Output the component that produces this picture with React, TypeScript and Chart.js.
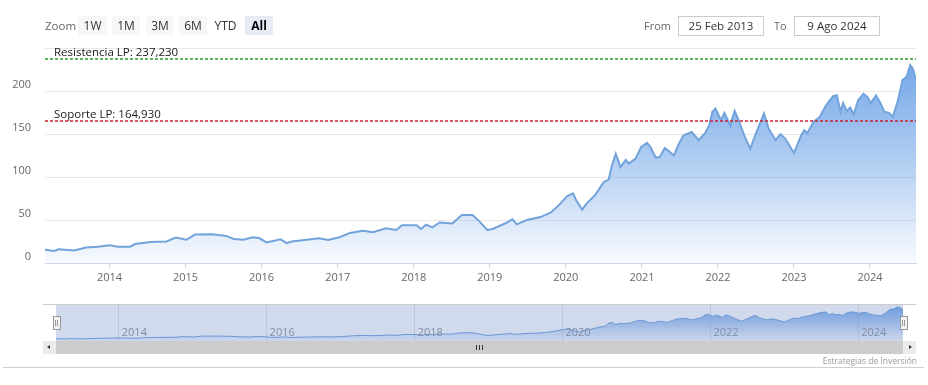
import React, { useEffect, useRef } from 'react';
import { Chart, registerables } from 'chart.js';

Chart.register(...registerables);

// ---------- data ----------
const DATES: string[] = [
  '2013-02-25', '2013-04-10', '2013-05-01', '2013-07-15', '2013-09-10', '2013-11-05',
  '2014-01-01', '2014-02-10', '2014-04-10', '2014-05-05', '2014-07-15', '2014-10-01', '2014-11-15',
  '2015-01-05', '2015-02-15', '2015-05-10', '2015-07-15', '2015-08-20', '2015-10-05', '2015-11-20', '2015-12-20',
  '2016-01-25', '2016-04-01', '2016-05-01', '2016-05-25', '2016-08-05', '2016-10-01', '2016-11-15',
  '2017-01-10', '2017-03-01', '2017-05-01', '2017-06-20', '2017-08-20', '2017-10-10', '2017-11-05',
  '2018-01-15', '2018-02-05', '2018-03-01', '2018-04-01', '2018-05-05', '2018-07-05', '2018-08-20', '2018-10-10', '2018-11-10', '2018-12-20',
  '2019-01-15', '2019-03-20', '2019-04-20', '2019-05-10', '2019-06-28', '2019-09-01', '2019-10-20', '2019-11-28',
  '2020-01-07', '2020-02-05', '2020-02-20', '2020-03-20', '2020-04-10', '2020-05-20', '2020-07-01', '2020-07-25',
  '2020-08-10', '2020-08-28', '2020-09-20', '2020-10-15', '2020-10-30', '2020-12-01', '2020-12-28',
  '2021-01-25', '2021-02-10', '2021-03-08', '2021-03-28', '2021-04-20', '2021-05-05', '2021-06-03', '2021-06-28',
  '2021-07-20', '2021-08-28', '2021-09-30', '2021-10-30', '2021-11-20', '2021-12-05', '2021-12-20',
  '2022-01-15', '2022-02-01', '2022-03-01', '2022-03-22', '2022-04-10', '2022-05-10', '2022-06-05', '2022-06-20',
  '2022-07-15', '2022-08-10', '2022-09-01', '2022-10-05', '2022-10-28', '2022-11-20',
  '2023-01-01', '2023-02-05', '2023-02-20', '2023-03-05', '2023-04-05', '2023-05-05', '2023-06-05', '2023-07-08',
  '2023-07-26', '2023-08-12', '2023-08-25', '2023-09-12', '2023-09-28', '2023-10-15', '2023-11-05', '2023-12-01', '2023-12-20',
  '2024-01-05', '2024-01-30', '2024-02-20', '2024-03-10', '2024-04-01', '2024-04-20', '2024-05-15', '2024-06-05',
  '2024-06-25', '2024-07-12', '2024-07-25', '2024-08-09',
];

const PRICES: number[] = [
  15.5, 14, 16, 14.5, 18, 19,
  20.5, 19, 19, 22, 24.5, 25, 29.5,
  27, 33, 33.3, 31.5, 28, 27, 30, 29,
  24, 27.5, 23, 25, 27, 28.7, 26.8,
  30, 35, 37.6, 35.7, 40.3, 38.4, 43.8,
  43.8, 39.6, 44.6, 41.4, 47.2, 46, 55.8, 55.8, 49, 38.4,
  39.6, 46.5, 50.7, 45, 50, 53.4, 58.5, 67,
  77.5, 81, 73, 62, 69, 78.7, 94, 97,
  113.6, 127, 111.6, 120, 115.6, 121.4, 135,
  139.6, 135, 122.6, 123.3, 133.8, 131, 125, 139,
  148.6, 152.4, 142.8, 150.6, 160, 175.8, 179.7,
  166, 174.6, 160, 176.9, 166, 146.6, 133, 142.8,
  158.3, 173.9, 156.4, 142.8, 149.8, 144.7,
  128, 148.6, 154.4, 150.6, 164, 170, 183.6, 194,
  195.2, 175.8, 186, 176.6, 180.9, 173, 189.4, 197, 193,
  186, 195, 186, 175.8, 174.6, 170, 189.4, 212.7,
  216.6, 230, 226, 212.7,
];

const START_DATE = '2013-02-25';
const END_DATE = '2024-08-09';
const Y_TICKS = [0, 50, 100, 150, 200, 250];
const YEAR_TICKS = [2014, 2015, 2016, 2017, 2018, 2019, 2020, 2021, 2022, 2023, 2024];
const NAV_YEAR_TICKS = [2014, 2016, 2018, 2020, 2022, 2024];
const LEVEL_VALUES = [237.23, 164.93];
const LEVEL_LABELS = ['Resistencia LP: 237,230', 'Soporte LP: 164,930'];
const LEVEL_COLORS = ['#2a9a2a', '#cc2233'];
const RANGE_BUTTONS = ['1W', '1M', '3M', '6M', 'YTD', 'All'];
const FROM_TEXT = '25 Feb 2013';
const TO_TEXT = '9 Ago 2024';
const CREDITS = 'Estrategias de Inversión';

// ---------- helpers ----------
const FONT = "'Open Sans', 'DejaVu Sans', sans-serif";
const toMs = (d: string) => Date.parse(d + 'T00:00:00Z');
const POINTS = DATES.map((d, i) => ({ x: toMs(d), y: PRICES[i] }));
const MAX_PRICE = Math.max(...PRICES);

const areaGradient = (top: number, bottom: number, ctx: CanvasRenderingContext2D) => {
  const g = ctx.createLinearGradient(0, top, 0, bottom);
  g.addColorStop(0, 'rgba(118,168,232,1)');
  g.addColorStop(0.45, 'rgba(118,168,232,0.6)');
  g.addColorStop(1, 'rgba(118,168,232,0.05)');
  return g;
};

const plotLinesPlugin = {
  id: 'plotLines',
  afterDatasetsDraw(chart: any) {
    const { ctx, chartArea: ca } = chart;
    const y = chart.scales.y;
    ctx.save();
    LEVEL_VALUES.forEach((v, i) => {
      const py = Math.round(y.getPixelForValue(v));
      ctx.strokeStyle = LEVEL_COLORS[i];
      ctx.lineWidth = 1.3;
      ctx.setLineDash([3, 2]);
      ctx.beginPath();
      ctx.moveTo(ca.left, py);
      ctx.lineTo(ca.right, py);
      ctx.stroke();
      ctx.setLineDash([]);
      ctx.fillStyle = '#1a1a1a';
      ctx.font = `11.5px ${FONT}`;
      ctx.textAlign = 'left';
      ctx.textBaseline = 'alphabetic';
      ctx.fillText(LEVEL_LABELS[i], ca.left + 9, py - 3);
    });
    ctx.restore();
  },
};

const navPlugin = {
  id: 'navMask',
  afterDatasetsDraw(chart: any) {
    const { ctx, chartArea: ca } = chart;
    const x = chart.scales.x;
    ctx.save();
    ctx.fillStyle = 'rgba(102,133,194,0.3)';
    ctx.fillRect(ca.left, ca.top, ca.right - ca.left, ca.bottom - ca.top);
    ctx.fillStyle = '#838ca2';
    ctx.font = `11px ${FONT}`;
    ctx.textAlign = 'left';
    ctx.textBaseline = 'middle';
    NAV_YEAR_TICKS.forEach((yr) => {
      const px = x.getPixelForValue(Date.UTC(yr, 0, 1));
      ctx.fillText(String(yr), px + 3, ca.bottom - 8);
    });
    ctx.restore();
  },
};

export default function App() {
  const mainRef = useRef<HTMLCanvasElement>(null);
  const navRef = useRef<HTMLCanvasElement>(null);

  useEffect(() => {
    const main = new Chart(mainRef.current as HTMLCanvasElement, {
      type: 'line',
      data: {
        datasets: [
          {
            data: POINTS,
            borderColor: '#72a3db',
            borderWidth: 2,
            pointRadius: 0,
            tension: 0,
            fill: 'origin',
            backgroundColor: (c: any) => {
              const chart = c.chart;
              const ca = chart.chartArea;
              if (!ca) return 'rgba(118,168,232,0.4)';
              const top = chart.scales.y.getPixelForValue(MAX_PRICE);
              return areaGradient(top, ca.bottom, chart.ctx);
            },
          },
        ],
      },
      options: {
        responsive: false,
        animation: false,
        layout: { padding: { top: 48, right: 12, left: 0, bottom: 0 } },
        plugins: { legend: { display: false }, tooltip: { enabled: false } },
        scales: {
          x: {
            type: 'linear',
            min: toMs(START_DATE),
            max: toMs(END_DATE),
            afterBuildTicks: (s: any) => {
              s.ticks = YEAR_TICKS.map((yr) => ({ value: Date.UTC(yr, 0, 1) }));
            },
            afterFit: (s: any) => {
              s.height = 32;
            },
            ticks: {
              autoSkip: false,
              maxRotation: 0,
              padding: 3,
              color: '#666666',
              font: { family: FONT, size: 11 },
              callback: (v: any) => String(new Date(v).getUTCFullYear()),
            },
            grid: { drawOnChartArea: false, drawTicks: true, tickLength: 5, color: '#ccd6eb', tickColor: '#ccd6eb' },
            border: { color: '#ccd6eb' },
          },
          y: {
            min: 0,
            max: 250,
            afterBuildTicks: (s: any) => {
              s.ticks = Y_TICKS.map((v) => ({ value: v }));
            },
            afterFit: (s: any) => {
              s.width = 45;
            },
            ticks: {
              padding: 14,
              labelOffset: -6,
              color: '#666666',
              font: { family: FONT, size: 11 },
              callback: (v: any) => (v === 250 ? '' : String(v)),
            },
            grid: { color: '#e8e8e8', drawTicks: false },
            border: { display: false },
          },
        },
      },
      plugins: [plotLinesPlugin],
    } as any);

    const nav = new Chart(navRef.current as HTMLCanvasElement, {
      type: 'line',
      data: {
        datasets: [
          {
            data: POINTS,
            borderColor: '#6c9fd9',
            borderWidth: 1,
            pointRadius: 0,
            tension: 0,
            fill: 'origin',
            backgroundColor: (c: any) => {
              const chart = c.chart;
              const ca = chart.chartArea;
              if (!ca) return 'rgba(118,168,232,0.4)';
              const top = chart.scales.y.getPixelForValue(MAX_PRICE);
              return areaGradient(top, ca.bottom, chart.ctx);
            },
          },
        ],
      },
      options: {
        responsive: false,
        animation: false,
        layout: { padding: { top: 5, left: 56, right: 25, bottom: 4 } },
        plugins: { legend: { display: false }, tooltip: { enabled: false } },
        scales: {
          x: {
            type: 'linear',
            min: toMs(START_DATE),
            max: toMs(END_DATE),
            afterBuildTicks: (s: any) => {
              s.ticks = NAV_YEAR_TICKS.map((yr) => ({ value: Date.UTC(yr, 0, 1) }));
            },
            afterFit: (s: any) => {
              s.height = 0;
            },
            ticks: { display: false },
            grid: { color: '#e3e3e3', drawTicks: false },
            border: { display: false },
          },
          y: { display: false, min: 0, max: 243 },
        },
      },
      plugins: [navPlugin],
    } as any);

    return () => {
      main.destroy();
      nav.destroy();
    };
  }, []);

  const btnLefts = [78, 112, 146, 179, 211, 245];
  const btnWidths = [29, 28, 28, 28, 29, 28];

  return (
    <div
      style={{
        position: 'absolute',
        left: 0,
        top: 0,
        width: 928,
        height: 385,
        background: '#ffffff',
        fontFamily: FONT,
        overflow: 'hidden',
      }}
    >
      <canvas ref={mainRef} width={928} height={295} style={{ position: 'absolute', left: 0, top: 0 }} />
      <canvas ref={navRef} width={928} height={45} style={{ position: 'absolute', left: 0, top: 300 }} />

      {/* range selector */}
      <div style={{ position: 'absolute', left: 45, top: 16, height: 19, lineHeight: '19px', fontSize: 11.5, color: '#666' }}>
        Zoom
      </div>
      {RANGE_BUTTONS.map((b, i) => (
        <div
          key={b}
          style={{
            position: 'absolute',
            left: btnLefts[i],
            top: 16,
            width: btnWidths[i],
            height: 19,
            lineHeight: '19px',
            textAlign: 'center',
            fontSize: 12,
            background: b === 'All' ? '#e6ebf5' : b === 'YTD' ? 'transparent' : '#f7f7f7',
            color: b === 'All' ? '#000' : '#333',
            fontWeight: b === 'All' ? 700 : 400,
          }}
        >
          {b}
        </div>
      ))}

      {/* date inputs */}
      <div style={{ position: 'absolute', left: 644, top: 16, height: 20, lineHeight: '20px', fontSize: 11, color: '#666' }}>From</div>
      <div
        style={{
          position: 'absolute',
          left: 678,
          top: 16,
          width: 84,
          height: 18,
          border: '1px solid #cccccc',
          lineHeight: '18px',
          textAlign: 'center',
          fontSize: 11.5,
          color: '#333',
        }}
      >
        {FROM_TEXT}
      </div>
      <div style={{ position: 'absolute', left: 774, top: 16, height: 20, lineHeight: '20px', fontSize: 11, color: '#666' }}>To</div>
      <div
        style={{
          position: 'absolute',
          left: 794,
          top: 16,
          width: 84,
          height: 18,
          border: '1px solid #cccccc',
          lineHeight: '18px',
          textAlign: 'center',
          fontSize: 11.5,
          color: '#333',
        }}
      >
        {TO_TEXT}
      </div>

      {/* navigator outline */}
      <div style={{ position: 'absolute', left: 43, top: 304, width: 873, height: 1, background: '#cccccc' }} />
      {/* handles */}
      {[53, 900].map((l) => (
        <div
          key={l}
          style={{
            position: 'absolute',
            left: l,
            top: 316,
            width: 6,
            height: 12,
            background: '#f2f2f2',
            border: '1px solid #999999',
          }}
        >
          <div style={{ position: 'absolute', left: 1, top: 3, width: 1, height: 6, background: '#999' }} />
          <div style={{ position: 'absolute', left: 3, top: 3, width: 1, height: 6, background: '#999' }} />
        </div>
      ))}

      {/* scrollbar */}
      <div style={{ position: 'absolute', left: 43, top: 341, width: 873, height: 13, background: '#f2f2f2' }} />
      <div style={{ position: 'absolute', left: 56, top: 341, width: 847, height: 13, background: '#cccccc' }} />
      {[0, 3, 6].map((o) => (
        <div key={o} style={{ position: 'absolute', left: 476 + o, top: 345, width: 1, height: 5, background: '#333' }} />
      ))}
      <div style={{ position: 'absolute', left: 43, top: 341, width: 13, height: 13, background: '#ebebeb' }}>
        <div
          style={{
            position: 'absolute',
            left: 4,
            top: 4,
            width: 0,
            height: 0,
            borderTop: '2.5px solid transparent',
            borderBottom: '2.5px solid transparent',
            borderRight: '3px solid #333',
          }}
        />
      </div>
      <div style={{ position: 'absolute', left: 903, top: 341, width: 13, height: 13, background: '#ebebeb' }}>
        <div
          style={{
            position: 'absolute',
            left: 6,
            top: 4,
            width: 0,
            height: 0,
            borderTop: '2.5px solid transparent',
            borderBottom: '2.5px solid transparent',
            borderLeft: '3px solid #333',
          }}
        />
      </div>

      {/* credits */}
      <div
        style={{
          position: 'absolute',
          right: 928 - 917,
          top: 354,
          height: 13,
          lineHeight: '13px',
          fontSize: 8.5,
          color: '#999',
          whiteSpace: 'nowrap',
        }}
      >
        {CREDITS}
      </div>

      {/* bottom border */}
      <div style={{ position: 'absolute', left: 3, top: 367, width: 921, height: 1, background: '#cfcfcf' }} />
    </div>
  );
}
